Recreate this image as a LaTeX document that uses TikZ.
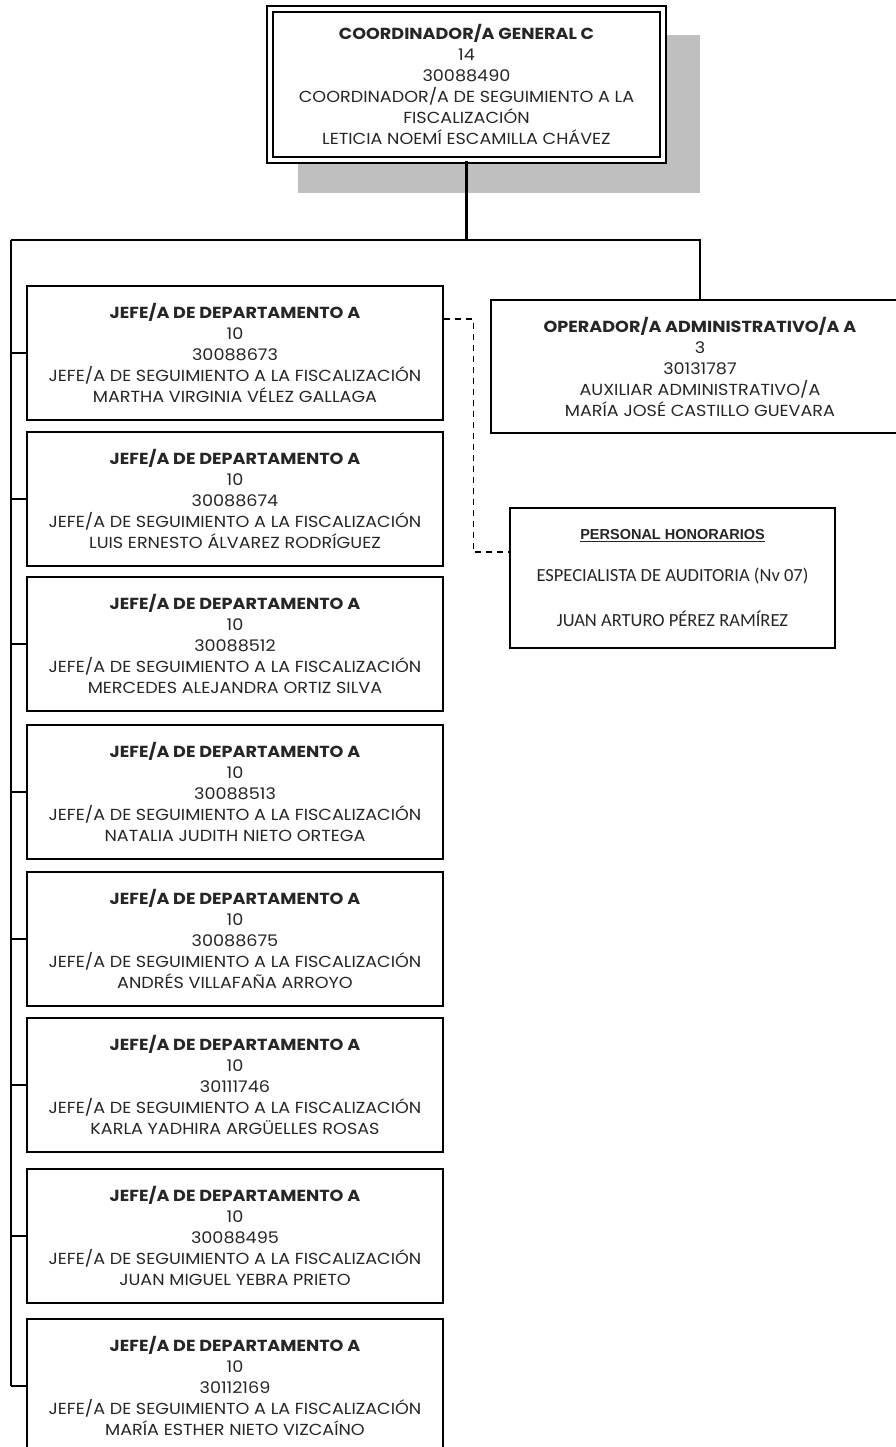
\documentclass[tikz,border=0pt]{standalone}
\usepackage{fontspec}
\setmainfont[FakeStretch=1.1]{Poppins}
\newfontfamily\calibrifont{Carlito}
\newfontfamily\arialfont{Liberation Sans}
\usetikzlibrary{positioning}

\begin{document}
\begin{tikzpicture}[x=1pt, y=-1pt, every node/.style={font=\fontsize{16}{21}\selectfont, align=center, text=black!85}, jefebox/.style={draw=black, line width=2.6pt, fill=white, minimum width=416pt, minimum height=134pt, inner sep=0pt}, link/.style={line width=2.6pt}, honlink/.style={line width=1.5pt, dash pattern=on 6pt off 5pt}]
	\clip (0,0) rectangle (896,1447);
	% shadow of the top box
	\fill[black!25] (298,35) rectangle (700,193);
	\node[draw=black, line width=2.6pt, double=white, double distance=3.4pt, fill=white, minimum width=393pt, minimum height=151pt, inner sep=0pt] (coord) at (466.5,84.5) {\textbf{COORDINADOR/A GENERAL C}\\14\\30088490\\COORDINADOR/A DE SEGUIMIENTO A LA\\FISCALIZACIÓN\\LETICIA NOEMÍ ESCAMILLA CHÁVEZ};
	\node[jefebox, minimum width=418pt, minimum height=133pt] (oper) at (700,366.5) {\textbf{OPERADOR/A ADMINISTRATIVO/A A}\\3\\30131787\\AUXILIAR ADMINISTRATIVO/A\\MARÍA JOSÉ CASTILLO GUEVARA};
	\node[jefebox, minimum width=325pt, minimum height=140pt, font=\calibrifont\fontsize{18.5}{22}\selectfont] (honor) at (672.5,578) {{\arialfont\fontsize{14.5}{22}\selectfont\bfseries\underline{PERSONAL HONORARIOS}}\\[20pt]ESPECIALISTA DE AUDITORIA (Nv 07)\\[22pt]JUAN ARTURO PÉREZ RAMÍREZ};
	% departamentos
	\foreach \i/\y/\plaza/\nombre in {1/353/30088673/MARTHA VIRGINIA VÉLEZ GALLAGA, 2/499/30088674/LUIS ERNESTO ÁLVAREZ RODRÍGUEZ, 3/644/30088512/MERCEDES ALEJANDRA ORTIZ SILVA, 4/792/30088513/NATALIA JUDITH NIETO ORTEGA, 5/939/30088675/ANDRÉS VILLAFAÑA ARROYO, 6/1085/30111746/KARLA YADHIRA ARGÜELLES ROSAS, 7/1236/30088495/JUAN MIGUEL YEBRA PRIETO, 8/1386/30112169/MARÍA ESTHER NIETO VIZCAÍNO}
		\node[jefebox] (jefe\i) at (235,\y) {\textbf{JEFE/A DE DEPARTAMENTO A}\\10\\\plaza\\JEFE/A DE SEGUIMIENTO A LA FISCALIZACIÓN\\\nombre};
	\coordinate (bus) at (11,240);
	\draw[link] (coord.south) -- (coord.south |- bus);
	\draw[link] (bus) -| (oper.north);
	\draw[link] (bus) -- (bus |- jefe8.west);
	\foreach \i in {1,...,8}
		\draw[link] (bus |- jefe\i.west) -- (jefe\i.west);
	\draw[honlink] ([yshift=34pt]jefe1.east) -| ([xshift=-35pt,yshift=26pt]honor.west) -- ([yshift=26pt]honor.west);
\end{tikzpicture}
\end{document}
